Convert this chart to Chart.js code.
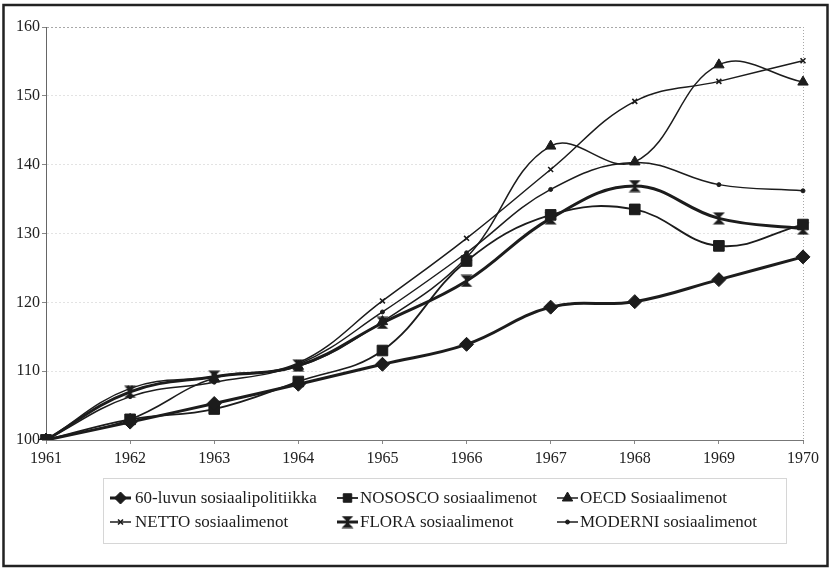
<!DOCTYPE html>
<html>
<head>
<meta charset="utf-8">
<script src="https://cdn.jsdelivr.net/npm/chart.js@4.4.1/dist/chart.umd.min.js"></script>
<style>
  html, body { margin: 0; padding: 0; background: #fff; }
  #wrap { width: 830px; height: 568px; position: relative; }
</style>
</head>
<body>
<div id="wrap"><canvas id="c" width="830" height="568"></canvas></div>
<script>
// ---- data ----
const years = ['1961','1962','1963','1964','1965','1966','1967','1968','1969','1970'];
const yTicks = [100, 110, 120, 130, 140, 150, 160];
const seriesNames = [
  '60-luvun sosiaalipolitiikka',
  'NOSOSCO sosiaalimenot',
  'OECD Sosiaalimenot',
  'NETTO sosiaalimenot',
  'FLORA sosiaalimenot',
  'MODERNI sosiaalimenot'
];
const luku60   = [100, 102.6, 105.3, 108.1, 111.0, 113.9, 119.3, 120.1, 123.3, 126.6];
const nososco  = [100, 103.0, 104.5, 108.5, 113.0, 126.0, 132.7, 133.5, 128.2, 131.3];
const oecd     = [100, 103.0, 109.0, 110.7, 117.2, 126.5, 142.7, 140.4, 154.5, 152.0];
const netto    = [100, 107.5, 109.2, 111.2, 120.2, 129.3, 139.3, 149.2, 152.1, 155.1];
const flora    = [100, 107.0, 109.2, 110.8, 117.0, 123.1, 132.2, 136.9, 132.2, 130.7];
const moderni  = [100, 106.3, 108.4, 111.0, 118.6, 127.2, 136.4, 140.3, 137.1, 136.2];

// ---- styles ----
const INK = '#1c1c1c';
function makeHourglass(size) {
  const c = document.createElement('canvas');
  c.width = size; c.height = size;
  const g = c.getContext('2d');
  g.fillStyle = INK;
  g.beginPath(); g.moveTo(0.5, 0.5); g.lineTo(size - 0.5, 0.5); g.lineTo(size / 2, size / 2); g.closePath(); g.fill();
  g.beginPath(); g.moveTo(0.5, size - 0.5); g.lineTo(size - 0.5, size - 0.5); g.lineTo(size / 2, size / 2); g.closePath(); g.fill();
  g.fillRect(size / 2 - 1.5, size / 2 - 2, 3, 4);
  return c;
}
const hourglass = makeHourglass(13);

const styles = [
  { pointStyle: 'rectRot', radius: 7, width: 3 },
  { pointStyle: 'rect', radius: 7.5, width: 1.8 },
  { pointStyle: 'triangle', radius: 6, width: 1.5 },
  { pointStyle: 'crossRot', radius: 3.5, width: 1.5 },
  { pointStyle: hourglass, radius: 7, width: 3 },
  { pointStyle: 'circle', radius: 2, width: 1.5 }
];
const seriesData = [luku60, nososco, oecd, netto, flora, moderni];

const datasets = seriesData.map((d, i) => ({
  label: seriesNames[i],
  data: d,
  borderColor: INK,
  backgroundColor: INK,
  borderWidth: styles[i].width,
  pointStyle: styles[i].pointStyle,
  pointRadius: styles[i].radius,
  pointBorderWidth: styles[i].pointStyle === 'crossRot' ? 1.6 : 1,
  pointBackgroundColor: INK,
  pointBorderColor: INK,
  tension: 0.4,
  fill: false
}));

const frameLegendPlugin = {
  id: 'frameLegend',
  beforeDraw(chart) {
    const ctx = chart.ctx;
    ctx.save();
    ctx.fillStyle = '#fff';
    ctx.fillRect(0, 0, chart.width, chart.height);
    ctx.restore();
  },
  afterDraw(chart) {
    const ctx = chart.ctx;
    ctx.save();
    // outer frame
    ctx.strokeStyle = '#222';
    ctx.lineWidth = 2.5;
    ctx.strokeRect(3.5, 5, 824, 561);
    // legend box
    ctx.strokeStyle = '#d6d6d6';
    ctx.lineWidth = 1;
    ctx.strokeRect(103.5, 478.5, 683, 65);
    // legend items
    const colLine = [110, 337, 557];
    const colText = [135, 360, 580];
    const rowY = [498, 522];
    ctx.font = '17px "Liberation Serif", "Times New Roman", serif';
    ctx.textBaseline = 'middle';
    ctx.fillStyle = INK;
    chart.data.datasets.forEach((ds, i) => {
      const col = i % 3, row = Math.floor(i / 3);
      const x0 = colLine[col], y = rowY[row];
      ctx.strokeStyle = INK;
      ctx.lineWidth = ds.borderWidth;
      ctx.beginPath(); ctx.moveTo(x0, y); ctx.lineTo(x0 + 21, y); ctx.stroke();
      ctx.fillStyle = INK;
      ctx.strokeStyle = INK;
      ctx.lineWidth = ds.pointBorderWidth;
      Chart.helpers.drawPoint(ctx, {
        pointStyle: ds.pointStyle,
        radius: Math.min(ds.pointRadius, 6),
        rotation: 0,
        borderWidth: ds.pointBorderWidth
      }, x0 + 10.5, y);
      ctx.fillStyle = INK;
      ctx.fillText(ds.label, colText[col], y + 1);
    });
    ctx.restore();
  }
};

new Chart(document.getElementById('c'), {
  type: 'line',
  data: { labels: years, datasets },
  options: {
    responsive: false,
    animation: false,
    layout: { padding: { left: 6, top: 27, right: 27, bottom: 100 } },
    plugins: { legend: { display: false }, tooltip: { enabled: false } },
    scales: {
      x: {
        type: 'category',
        offset: false,
        afterFit(s) { s.height = 28; },
        grid: {
          display: true,
          drawOnChartArea: true,
          color: (c) => (c.index === years.length - 1 ? '#a8a8a8' : 'rgba(0,0,0,0)'),
          tickColor: '#888',
          tickLength: 4,
          lineWidth: 1
        },
        border: { display: true, color: '#777', width: 1, dash: [1, 2] },
        ticks: {
          color: '#222',
          padding: 5,
          maxRotation: 0,
          autoSkip: false,
          font: { family: '"Liberation Serif", "Times New Roman", serif', size: 16 }
        }
      },
      y: {
        min: 100,
        max: 160,
        afterFit(s) { s.width = 40; },
        afterBuildTicks(s) { s.ticks = yTicks.map(v => ({ value: v })); },
        grid: {
          color: (c) => (c.tick && c.tick.value === 160 ? '#a8a8a8' : (c.tick && c.tick.value === 100 ? 'rgba(0,0,0,0)' : '#e3e3e3')),
          tickColor: '#888',
          tickLength: 4,
          lineWidth: 1
        },
        border: { display: true, color: '#666', width: 1, dash: [2, 2] },
        ticks: {
          color: '#222',
          padding: 2,
          font: { family: '"Liberation Serif", "Times New Roman", serif', size: 16 }
        }
      }
    }
  },
  plugins: [frameLegendPlugin]
});
</script>
</body>
</html>
